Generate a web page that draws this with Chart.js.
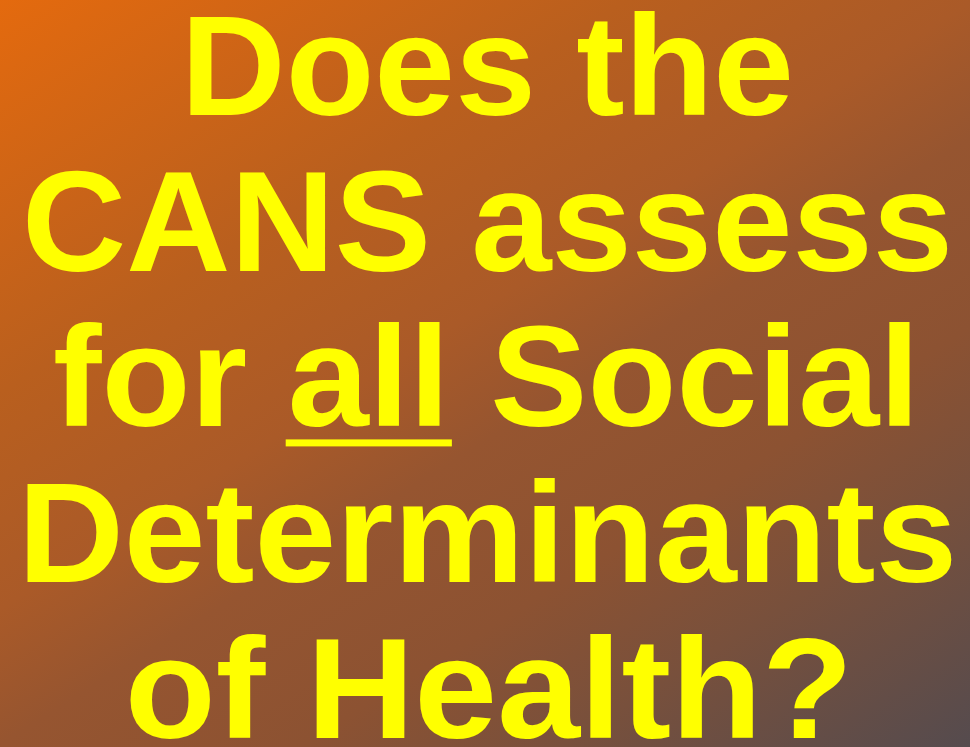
<!DOCTYPE html>
<html>
<head>
<meta charset="utf-8">
<title>Does the CANS assess for all Social Determinants of Health?</title>
<script src="https://cdn.jsdelivr.net/npm/chart.js@4"></script>
<style>
  html, body { margin: 0; padding: 0; overflow: hidden; background: #8a5a3a; }
  #wrap { width: 970px; height: 747px; position: relative; }
</style>
</head>
<body>
<div id="wrap"><canvas id="slide"></canvas></div>
<script>
// slide text, one entry per line; the underlined word is marked separately
const titleLines = ['Does the', 'CANS assess', 'for all Social', 'Determinants', 'of Health?'];
const underlined = { line: 2, word: 'all' };
// ink extents of each line as seen on the slide (left, right)
const lineLeft  = [190, 27, 55, 27, 130];
const lineRight = [790, 948, 910, 952, 845];
const bgStops   = ['#e46a0e', '#b95f1e', '#aa5a28', '#965530', '#8c5232', '#78503c', '#554b4e'];
const bgOffsets = [0, 0.29, 0.45, 0.55, 0.69, 0.81, 1];

(function() {
    const fontSize = 142;
    const firstBaseline = 115;
    const lineGap = 155.7;
    const font = 'bold ' + fontSize + 'px "Liberation Sans", Arial, sans-serif';

    const slidePlugin = {
        id: 'slide',
        beforeDraw(chart) {
            const ctx = chart.ctx;
            const w = chart.width, h = chart.height;
            ctx.save();
            // direction (1, 1.6), scaled so the bottom-right corner lands on t = 1
            const k = (w + 1.6 * h) / (1 + 1.6 * 1.6);
            const g = ctx.createLinearGradient(0, 0, k, 1.6 * k);
            bgStops.forEach((c, i) => g.addColorStop(bgOffsets[i], c));
            ctx.fillStyle = g;
            ctx.fillRect(0, 0, w, h);
            ctx.restore();
        },
        afterDraw(chart) {
            const ctx = chart.ctx;
            ctx.save();
            ctx.font = font;
            ctx.fillStyle = '#ffff00';
            ctx.textBaseline = 'alphabetic';
            ctx.textAlign = 'left';
            titleLines.forEach((line, i) => {
                const m = ctx.measureText(line);
                const inkW = m.actualBoundingBoxLeft + m.actualBoundingBoxRight;
                const sx = (lineRight[i] - lineLeft[i]) / inkW;
                const y = firstBaseline + i * lineGap;
                ctx.save();
                ctx.translate(lineLeft[i], y);
                ctx.scale(sx, 1);
                ctx.fillText(line, m.actualBoundingBoxLeft, 0);
                if (i === underlined.line) {
                    const pos = line.indexOf(underlined.word);
                    const x0 = m.actualBoundingBoxLeft + ctx.measureText(line.slice(0, pos)).width;
                    const ww = ctx.measureText(underlined.word).width;
                    ctx.fillRect(x0 - 2, 13, ww + 4, 7);
                }
                ctx.restore();
            });
            ctx.restore();
        }
    };

    new Chart(document.getElementById('slide').getContext('2d'), {
        type: 'scatter',
        data: { datasets: [] },
        options: {
            responsive: true,
            maintainAspectRatio: false,
            animation: false,
            layout: { padding: 0 },
            scales: { x: { display: false }, y: { display: false } },
            plugins: { legend: { display: false }, tooltip: { enabled: false }, title: { display: false } }
        },
        plugins: [slidePlugin]
    });
})();
</script>
</body>
</html>
